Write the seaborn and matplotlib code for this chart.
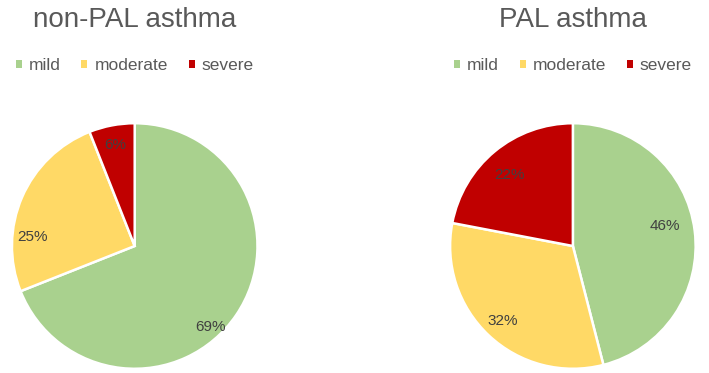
import matplotlib
matplotlib.use("Agg")
import matplotlib.pyplot as plt
import seaborn as sns
from matplotlib.patches import Patch

categories = ["mild", "moderate", "severe"]
non_pal_values = [69, 25, 6]
pal_values = [46, 32, 22]
titles = ["non-PAL asthma", "PAL asthma"]

colors = sns.color_palette(["#A9D18E", "#FFD966", "#C00000"])

sns.set_theme(style="white")
plt.rcParams['font.family'] = ['Liberation Sans', 'DejaVu Sans']

fig = plt.figure(figsize=(7.09, 3.73), dpi=100)
fig.patch.set_facecolor("white")

centers = [0.190, 0.808]
cy = 1 - 246 / 373
w = 248 / 709
h = 248 / 373
axes_rects = [[c - w / 2, cy - h / 2, w, h] for c in centers]
# label positions in pie units (x, y)
label_pos = [
    [(0.62, -0.66), (-0.83, 0.07), (-0.16, 0.82)],
    [(0.75, 0.16), (-0.57, -0.61), (-0.52, 0.58)],
]
title_y = 1 - 20 / 373
legend_y = 1 - 66 / 373

for i, (vals, title) in enumerate(zip([non_pal_values, pal_values], titles)):
    ax = fig.add_axes(axes_rects[i])
    wedges, texts, autotexts = ax.pie(
        vals, colors=colors, startangle=90, counterclock=False,
        autopct="%1.0f%%", pctdistance=0.6,
        wedgeprops=dict(edgecolor="white", linewidth=1.8),
        textprops=dict(color="#404040", fontsize=11),
        radius=1.0,
    )
    for t, (x, y) in zip(autotexts, label_pos[i]):
        t.set_position((x, y))
        t.set_ha("center")
        t.set_va("center")
    ax.set_xlim(-1.01, 1.01)
    ax.set_ylim(-1.01, 1.01)
    ax.set_aspect("equal")
    ax.axis("off")

    fig.text(centers[i], title_y, title, ha="center", va="center",
             fontsize=20, color="#595959")
    handles = [Patch(facecolor=c, edgecolor="none") for c in colors]
    fig.legend(handles, categories, loc="center",
               bbox_to_anchor=(centers[i], legend_y), ncol=3, frameon=False,
               handlelength=0.35, handleheight=0.35, handletextpad=0.4,
               columnspacing=1.2, fontsize=12.5, labelcolor="#595959")

fig.savefig("out.png", dpi=100, facecolor="white")
